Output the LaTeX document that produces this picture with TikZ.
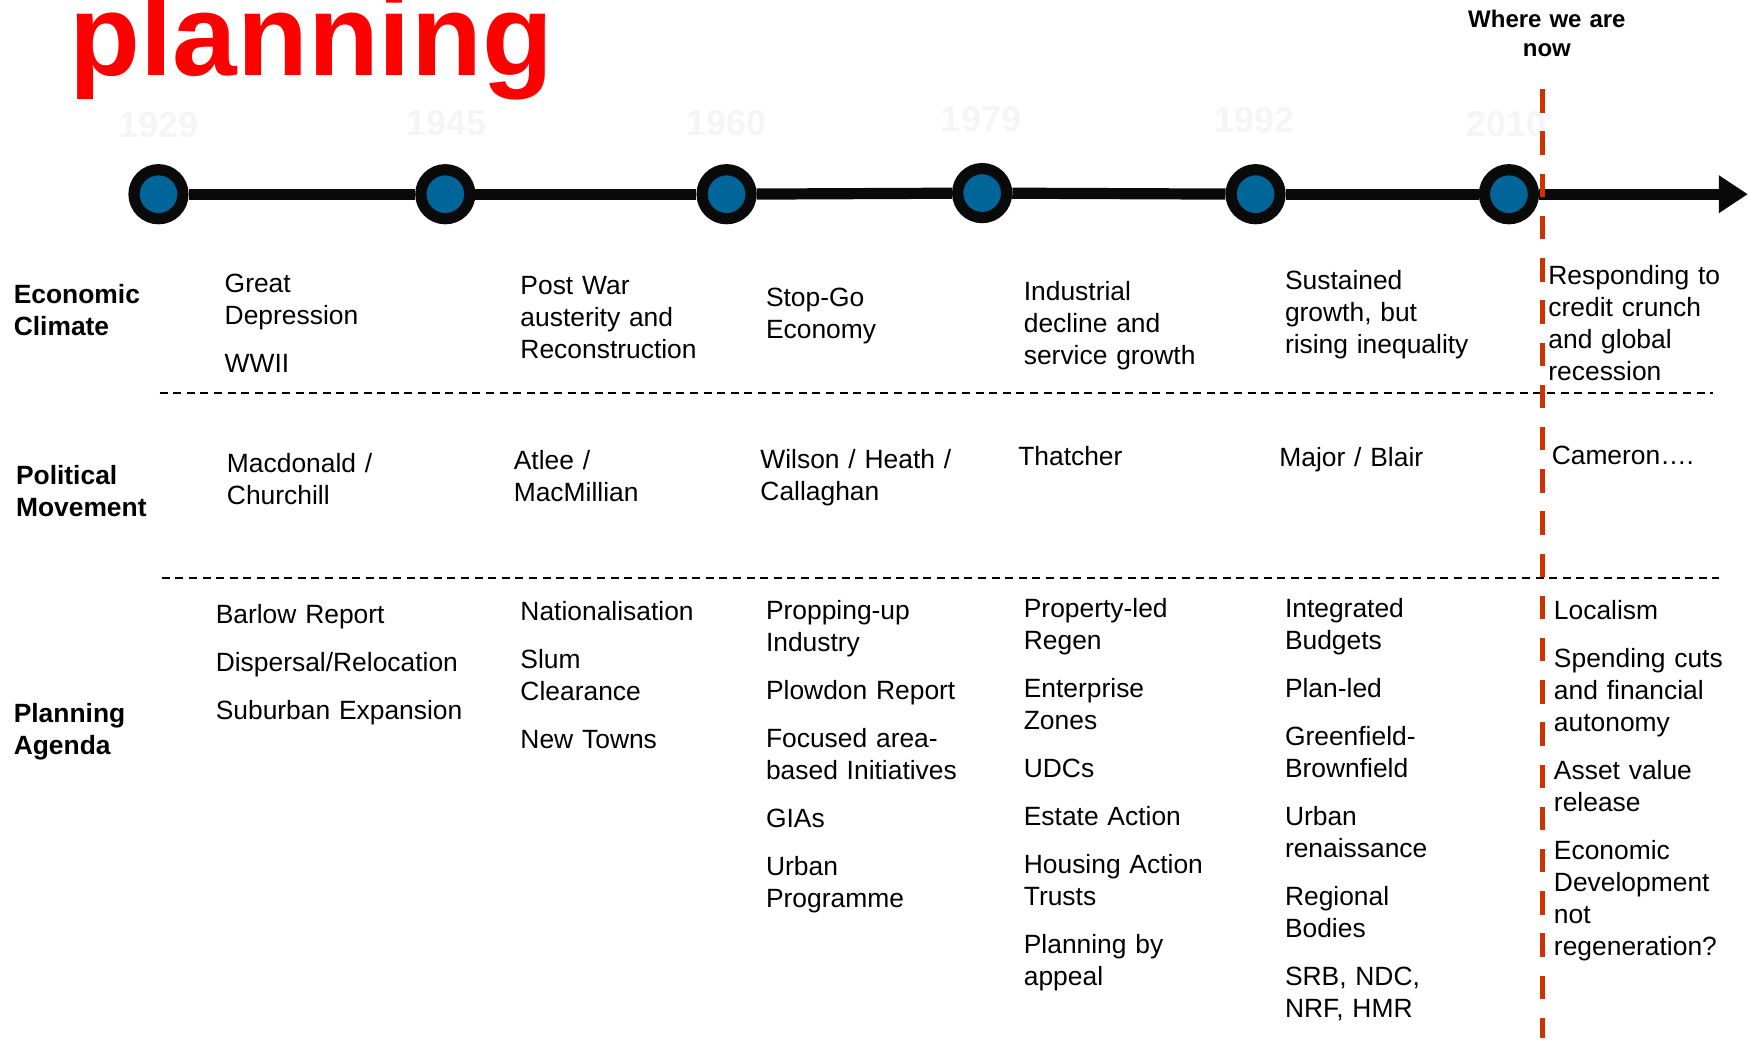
\documentclass[tikz,border=0pt]{standalone}
\usepackage{fontspec}
\setmainfont{Liberation Sans}
\usetikzlibrary{arrows.meta}

\definecolor{dotblue}{RGB}{0,102,153}
\definecolor{nowred}{RGB}{204,51,0}
\definecolor{ringblack}{RGB}{10,10,10}

\begin{document}
\begin{tikzpicture}[x=0.558pt, y=-0.558pt,
    every node/.style={inner sep=0pt},
    dot/.style={circle, draw=ringblack, line width=5.6pt, fill=dotblue, minimum size=24.5pt},
    year/.style={font=\fontsize{18}{20}\selectfont\bfseries, text=black!4},
    heading/.style={anchor=base west, align=left, text width=100pt, font=\fontsize{13.2}{16}\selectfont\bfseries},
    entry/.style={anchor=base west, align=left, text width=140pt, font=\fontsize{13.2}{16}\selectfont},
    timeline/.style={draw=ringblack, line width=5.6pt},
    rowline/.style={dash pattern=on 4pt off 2.8pt, line width=0.8pt}]
    \useasboundingbox (0,0) rectangle (1568,933);

    \node[anchor=base west, text=red, font=\fontsize{58}{60}\selectfont\bfseries] (title) at (62,68) {planning};
    \node[anchor=base, align=center, text width=100pt, font=\fontsize{12}{14.5}\selectfont\bfseries] (now) at (1386,25) {Where we are\\now};

    % years (very faint)
    \node[year] (t1929) at (142,112) {1929};
    \node[year] (t1945) at (400,110) {1945};
    \node[year] (t1960) at (651,110) {1960};
    \node[year] (t1979) at (879,107) {1979};
    \node[year] (t1992) at (1124,108) {1992};
    \node[year] (t2010) at (1350,111) {2010};

    % timeline
    \node[dot] (c1929) at (142,174) {};
    \node[dot] (c1945) at (399,174) {};
    \node[dot] (c1960) at (651,174) {};
    \node[dot] (c1979) at (880,173) {};
    \node[dot] (c1992) at (1125,174) {};
    \node[dot] (c2010) at (1352,174) {};
    \coordinate (tip) at (1566,174);
    \draw[timeline] (c1929) -- (c1945);
    \draw[timeline] (c1945) -- (c1960);
    \draw[timeline] (c1960) -- (c1979);
    \draw[timeline] (c1979) -- (c1992);
    \draw[timeline] (c1992) -- (c2010);
    \draw[timeline, -{Triangle[length=14.5pt,width=18pt]}] (c2010) -- (tip);

    % row separators
    \draw[rowline] (143,352) -- (1535,352);
    \draw[rowline] (145,518) -- (1540,518);
    \draw[nowred, line width=2.2pt, dash pattern=on 11.7pt off 9.4pt] (1382,80) -- (1382,930);

    \node[heading] (econ) at (12,272) {Economic\\Climate};
    \node[heading] (pol) at (14,434) {Political\\Movement};
    \node[heading] (plan) at (12,647) {Planning\\Agenda};

    \node[entry] (ec1) at (201,262) {Great\\Depression\\[8pt]WWII};
    \node[entry] (ec2) at (466,264) {Post War\\austerity and\\Reconstruction};
    \node[entry] (ec3) at (686,275) {Stop-Go\\Economy};
    \node[entry] (ec4) at (917,269) {Industrial\\decline and\\service growth};
    \node[entry] (ec5) at (1151,259) {Sustained\\growth, but\\rising inequality};
    \node[entry] (ec6) at (1387,255) {Responding to\\credit crunch\\and global\\recession};

    \node[entry] (pm1) at (203,423) {Macdonald /\\Churchill};
    \node[entry] (pm2) at (460,421) {Atlee /\\MacMillian};
    \node[entry] (pm3) at (681,420) {Wilson / Heath /\\Callaghan};
    \node[entry] (pm4) at (912,417) {Thatcher};
    \node[entry] (pm5) at (1146,418) {Major / Blair};
    \node[entry] (pm6) at (1390,416) {Cameron….};

    \node[entry] (pa1) at (193,559) {Barlow Report\\[8pt]Dispersal/Relocation\\[8pt]Suburban Expansion};
    \node[entry] (pa2) at (466,556) {Nationalisation\\[8pt]Slum\\Clearance\\[8pt]New Towns};
    \node[entry] (pa3) at (686,555) {Propping-up\\Industry\\[8pt]Plowdon Report\\[8pt]Focused area-\\based Initiatives\\[8pt]GIAs\\[8pt]Urban\\Programme};
    \node[entry] (pa4) at (917,553) {Property-led\\Regen\\[8pt]Enterprise\\Zones\\[8pt]UDCs\\[8pt]Estate Action\\[8pt]Housing Action\\Trusts\\[8pt]Planning by\\appeal};
    \node[entry] (pa5) at (1151,553) {Integrated\\Budgets\\[8pt]Plan-led\\[8pt]Greenfield-\\Brownfield\\[8pt]Urban\\renaissance\\[8pt]Regional\\Bodies\\[8pt]SRB, NDC,\\NRF, HMR};
    \node[entry] (pa6) at (1392,555) {Localism\\[8pt]Spending cuts\\and financial\\autonomy\\[8pt]Asset value\\release\\[8pt]Economic\\Development\\not\\regeneration?};
\end{tikzpicture}
\end{document}
